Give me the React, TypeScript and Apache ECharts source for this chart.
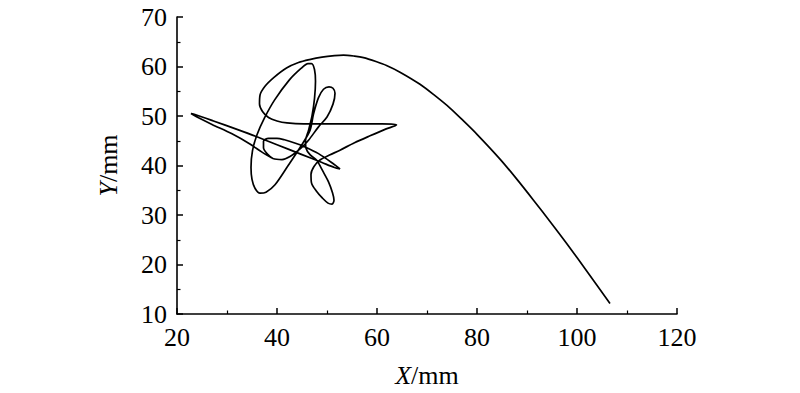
import React, { useEffect, useRef } from "react";
import * as echarts from "echarts";

// Axis ranges / ticks
const xRange = [20, 120];
const xStep = 20;
const yRange = [10, 70];
const yStep = 10;
const xTitle = ["X", "/mm"];
const yTitle = ["Y", "/mm"];

// Trajectory, in order, as [X mm, Y mm]
const thinLoop: number[][] = [
  [39.2, 41.4], [37.0, 42.7], [34.5, 44.4], [31.0, 46.4], [27.0, 48.3], [24.0, 49.8],
  [22.8, 50.5], [23.6, 50.3], [27.3, 49.0], [32.0, 47.3], [36.0, 45.8], [40.0, 44.2],
  [45.0, 42.2], [49.0, 40.6], [51.5, 39.6], [52.6, 39.3], [51.2, 40.4], [48.3, 42.4],
  [45.5, 43.8], [43.7, 44.5], [41.5, 45.2], [40.0, 45.5], [38.3, 45.5], [37.3, 44.9],
  [37.3, 43.6], [38.2, 42.2], [39.2, 41.4],
];

const tangle: number[][] = [
  [41.0, 41.2], [42.6, 41.8], [44.9, 43.6], [46.3, 45.1], [48.3, 47.8], [50.0, 49.8],
  [51.2, 52.4], [51.6, 54.6], [51.2, 55.6], [50.4, 55.9], [49.3, 55.4], [48.3, 53.7],
  [47.3, 50.4], [46.6, 47.1], [44.9, 44.1], [42.3, 40.1], [39.6, 36.1], [37.8, 34.6],
  [36.6, 34.4], [35.6, 35.4], [35.0, 37.2], [34.8, 39.6], [35.1, 43.0], [36.0, 46.2],
  [37.5, 49.6], [39.5, 53.2], [42.4, 57.2], [44.8, 59.6], [46.2, 60.6], [46.9, 60.6],
  [47.5, 59.4], [47.7, 57.0], [47.5, 53.5], [47.0, 50.0], [46.3, 47.1], [45.7, 45.0],
  [45.8, 43.5], [46.6, 42.2], [47.9, 41.1], [49.2, 38.8], [50.3, 36.7], [51.1, 34.5],
  [51.4, 33.0], [51.0, 32.2], [50.2, 32.4], [49.1, 33.4], [47.9, 34.8], [46.9, 36.5],
  [46.8, 38.2], [47.4, 39.8], [48.6, 41.1], [50.5, 42.1], [52.6, 43.1], [55.5, 44.6],
  [58.6, 46.0], [61.6, 47.3], [63.9, 48.2], [61.0, 48.4], [56.0, 48.4], [50.0, 48.4],
  [45.3, 48.4], [42.0, 48.6], [40.0, 49.0], [38.3, 49.7], [37.1, 50.9], [36.5, 52.4],
  [36.6, 54.2], [37.6, 56.0], [39.4, 57.8], [41.9, 59.7], [44.3, 60.8], [46.5, 61.4],
];

const launchArc: number[][] = [
  [49.0, 61.9], [51.5, 62.2], [53.3, 62.3], [55.5, 62.1], [57.3, 61.8], [59.8, 61.0],
  [61.9, 60.2], [64.6, 58.85], [68.6, 56.4], [71.6, 54.1], [74.6, 51.6], [77.3, 49.0],
  [80.0, 46.3], [84.6, 41.3], [88.0, 37.2], [91.3, 33.0], [94.6, 28.7], [97.9, 24.3],
  [102.3, 18.2], [106.6, 12.1],
];

const FONT = "'Liberation Serif', 'Times New Roman', serif";
const FS = 26;

export default function App() {
  const ref = useRef<HTMLDivElement>(null);
  useEffect(() => {
    if (!ref.current) return;
    const chart = echarts.init(ref.current, null, { renderer: "svg" });
    const data = [...thinLoop, ...tangle, ...launchArc];
    const axisCommon = {
      axisLine: { show: true, onZero: false, lineStyle: { color: "#000", width: 1.6 } },
      axisTick: { show: true, inside: true, length: 6, lineStyle: { color: "#000", width: 1.5 } },
      minorTick: { show: true, splitNumber: 2, length: 3.5, lineStyle: { color: "#000", width: 1.2 } },
      splitLine: { show: false },
      minorSplitLine: { show: false },
      axisLabel: { color: "#000", fontFamily: FONT, fontSize: FS },
      nameLocation: "middle" as const,
      nameTextStyle: {
        color: "#000",
        fontFamily: FONT,
        fontSize: FS,
        rich: {
          i: { fontFamily: FONT, fontSize: FS, fontStyle: "italic", color: "#000" },
          n: { fontFamily: FONT, fontSize: FS, color: "#000" },
        },
      },
    };
    chart.setOption({
      animation: false,
      backgroundColor: "#fff",
      grid: { left: 177, right: 123, top: 17, bottom: 76, containLabel: false },
      xAxis: {
        type: "value",
        min: xRange[0],
        max: xRange[1],
        interval: xStep,
        name: `{i|${xTitle[0]}}{n|${xTitle[1]}}`,
        nameGap: 48,
        ...axisCommon,
        axisLabel: { ...axisCommon.axisLabel, margin: 10 },
      },
      yAxis: {
        type: "value",
        min: yRange[0],
        max: yRange[1],
        interval: yStep,
        name: `{i|${yTitle[0]}}{n|${yTitle[1]}}`,
        nameGap: 56,
        nameRotate: 90,
        ...axisCommon,
        axisLabel: { ...axisCommon.axisLabel, margin: 10 },
      },
      series: [
        {
          type: "line",
          data,
          showSymbol: false,
          smooth: 0.3,
          lineStyle: { color: "#000", width: 1.7 },
        },
      ],
    });
    return () => chart.dispose();
  }, []);
  return (
    <div
      ref={ref}
      style={{ position: "fixed", left: 0, top: 0, width: 800, height: 393, background: "#fff" }}
    />
  );
}
